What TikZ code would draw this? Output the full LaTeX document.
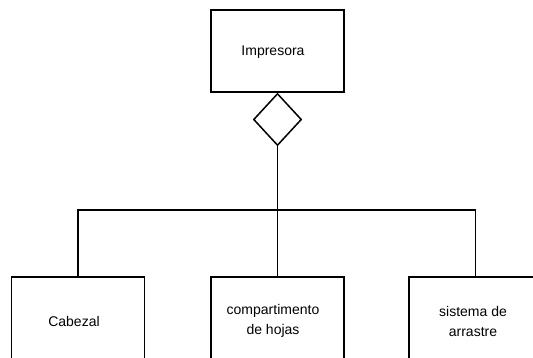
\documentclass[tikz,border=0pt]{standalone}
\usepackage{fontspec}
\setmainfont{Liberation Sans}
\usetikzlibrary{shapes.geometric}
\begin{document}
\begin{tikzpicture}[x=1pt,y=-1pt,
  line width=1.5pt,
  box/.style={draw, rectangle, minimum width=133pt, inner sep=0pt},
  tag/.style={font=\fontsize{14}{20}\selectfont, align=center, inner sep=0pt},
  agg/.style={draw, diamond, minimum width=48pt, minimum height=52pt, inner sep=0pt, aspect=0.92}]
\useasboundingbox (0,0) rectangle (533,358);
\begin{scope}
\clip (0,0) rectangle (533,358);
% whole: the printer
\node[box, minimum height=82pt] (imp) at (277.5,51) {};
\node[tag] (impt) at (273,52) {Impresora};
% aggregation marker
\node[agg, anchor=north] (dia) at (imp.south) {};
% parts
\node[box, minimum height=86pt] (cab) at (78,320) {};
\node[box, minimum height=86pt] (comp) at (277.5,320) {};
\node[box, minimum height=86pt] (arr) at (475.5,320) {};
\node[tag] (cabt) at (74,321) {Cabezal};
\node[tag] (compt) at (273,321) {compartimento\\de hojas};
\node[tag] (arrt) at (473,321) {sistema de\\arrastre};
% connectors
\coordinate (j) at (277.5,210);
\draw (dia.south) -- (j);
\draw (cab.north) |- (j) -| (arr.north);
\draw (j) -- (comp.north);
\end{scope}
\end{tikzpicture}
\end{document}
